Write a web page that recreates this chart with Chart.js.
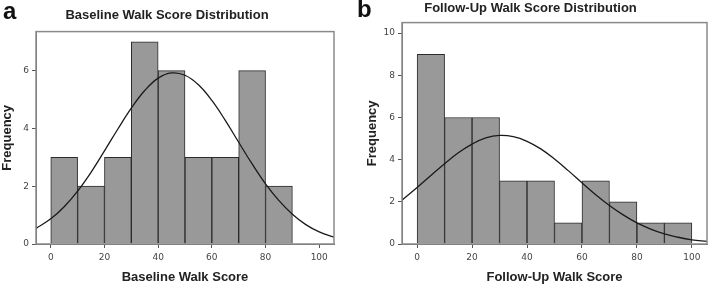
<!DOCTYPE html>
<html>
<head>
<meta charset="utf-8">
<script src="https://cdn.jsdelivr.net/npm/chart.js@4/dist/chart.umd.min.js"></script>
<style>
  body { margin: 0; background: #fff; }
  .panel { position: absolute; top: 0; height: 285px; }
  #panelA { left: 0; width: 354px; }
  #panelB { left: 354px; width: 355px; }
</style>
</head>
<body>
<div class="panel" id="panelA"><canvas id="chartA"></canvas></div>
<div class="panel" id="panelB"><canvas id="chartB"></canvas></div>
<script>
// histogram bins (lower edges, width 10)
const binStartsA = [0, 10, 20, 30, 40, 50, 60, 70, 80];
const countsA = [3, 2, 3, 7, 6, 3, 3, 6, 2];
const binStartsB = [0, 10, 20, 30, 40, 50, 60, 70, 80, 90];
const countsB = [9, 6, 6, 3, 3, 1, 3, 2, 1, 1];

// fitted normal curve
const curveX = [-5.5, 0, 5, 10, 15, 20, 25, 30, 35, 40, 45, 50, 55, 60, 65, 70, 75, 80, 85, 90, 95, 100, 105.5];
const curveA = [0.54, 0.87, 1.29, 1.83, 2.48, 3.22, 3.98, 4.70, 5.31, 5.74, 5.92, 5.84, 5.51, 4.97, 4.28, 3.52, 2.77, 2.08, 1.50, 1.03, 0.67, 0.42, 0.24];
const curveB = [2.08, 2.68, 3.25, 3.81, 4.33, 4.74, 5.03, 5.15, 5.09, 4.87, 4.51, 4.03, 3.48, 2.90, 2.34, 1.83, 1.38, 1.00, 0.71, 0.48, 0.32, 0.20, 0.12];

const xTicks = [0, 20, 40, 60, 80, 100];
const yTicksA = [0, 2, 4, 6];
const yTicksB = [0, 2, 4, 6, 8, 10];

const frameAndLetter = {
    id: 'frameAndLetter',
    afterDraw(chart, args, opts) {
        const ctx = chart.ctx;
        const a = chart.chartArea;
        ctx.save();
        ctx.strokeStyle = '#8a8a8a';
        ctx.lineWidth = 1.5;
        ctx.strokeRect(a.left, a.top, a.right - a.left, a.bottom - a.top);
        ctx.fillStyle = '#111';
        ctx.font = 'bold 24px "Liberation Sans"';
        ctx.textBaseline = 'alphabetic';
        ctx.fillText(opts.letter, opts.lx, opts.ly);
        ctx.restore();
    }
};

const makeChart = (id, cfg) => {
    const ctx = document.getElementById(id).getContext('2d');
    return new Chart(ctx, {
        data: {
            datasets: [{
                type: 'line',
                data: curveX.map((x, i) => ({x: x, y: cfg.curve[i]})),
                borderColor: '#1a1a1a',
                borderWidth: 1.3,
                pointRadius: 0,
                tension: 0.4,
                fill: false,
            }, {
                type: 'bar',
                data: cfg.starts.map((s, i) => ({x: s + 5, y: cfg.counts[i]})),
                backgroundColor: '#999999',
                borderColor: '#2b2b2b',
                borderWidth: 1,
                barPercentage: 1,
                categoryPercentage: 1,
            }],
        },
        options: {
            responsive: true,
            maintainAspectRatio: false,
            animation: false,
            layout: {padding: {left: 0, right: cfg.padRight, bottom: 0}},
            plugins: {
                legend: {display: false},
                tooltip: {enabled: false},
                title: {
                    display: true,
                    text: cfg.title,
                    color: '#222',
                    font: {family: 'Liberation Sans', size: 13, weight: 'bold'},
                    padding: {top: cfg.titleTop, bottom: cfg.titleBottom},
                },
                frameAndLetter: {letter: cfg.letter, lx: 3, ly: cfg.letterY},
            },
            scales: {
                x: {
                    type: 'linear',
                    min: -5.5,
                    max: 105.5,
                    offset: false,
                    afterBuildTicks: (s) => { s.ticks = xTicks.map(v => ({value: v})); },
                    afterFit: (s) => { s.height = 41; },
                    grid: {drawOnChartArea: false, offset: false, tickLength: 4, color: '#555'},
                    border: {color: '#666'},
                    ticks: {color: '#444', font: {family: 'DejaVu Sans', size: 9}, padding: 4},
                    title: {
                        display: true,
                        text: cfg.xLabel,
                        color: '#222',
                        font: {family: 'Liberation Sans', size: 13, weight: 'bold'},
                        padding: {top: 3, bottom: 0},
                    },
                },
                y: {
                    min: 0,
                    max: cfg.yMax,
                    afterBuildTicks: (s) => { s.ticks = cfg.yTicks.map(v => ({value: v})); },
                    afterFit: (s) => { s.width = cfg.yWidth; },
                    grid: {drawOnChartArea: false, tickLength: 4, color: '#555'},
                    border: {color: '#666'},
                    ticks: {color: '#444', font: {family: 'DejaVu Sans', size: 9}, padding: 3},
                    title: {
                        display: true,
                        text: 'Frequency',
                        color: '#222',
                        font: {family: 'Liberation Sans', size: 13, weight: 'bold'},
                        padding: {top: cfg.yTitlePad, bottom: 0},
                    },
                },
            },
        },
        plugins: [frameAndLetter],
    });
};

window.addEventListener('load', () => {
    makeChart('chartA', {
        starts: binStartsA, counts: countsA, curve: curveA,
        title: 'Baseline Walk Score Distribution', xLabel: 'Baseline Walk Score',
        yMax: 7.35, yTicks: yTicksA, yWidth: 36, padRight: 20, yTitlePad: 0,
        titleTop: 8, titleBottom: 8, letter: 'a', letterY: 19,
    });
    makeChart('chartB', {
        starts: binStartsB, counts: countsB, curve: curveB,
        title: 'Follow-Up Walk Score Distribution', xLabel: 'Follow-Up Walk Score',
        yMax: 10.5, yTicks: yTicksB, yWidth: 48, padRight: 2, yTitlePad: 11,
        titleTop: 1, titleBottom: 6, letter: 'b', letterY: 17,
    });
});
</script>
</body>
</html>
